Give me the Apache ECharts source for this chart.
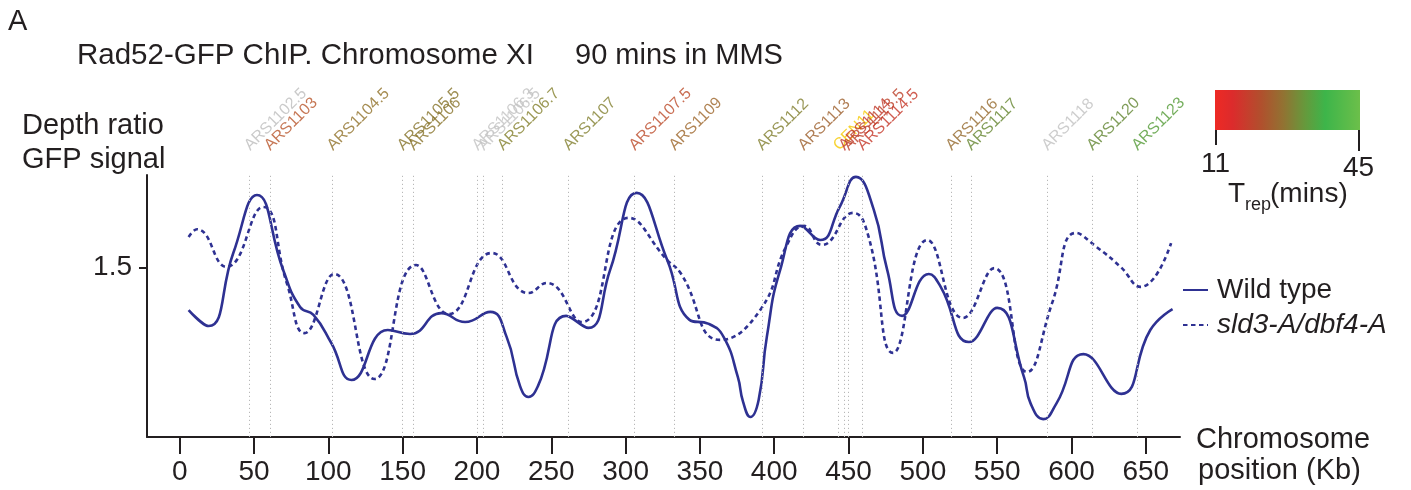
<!DOCTYPE html>
<html>
<head>
<meta charset="utf-8">
<script src="https://cdn.jsdelivr.net/npm/echarts@6/dist/echarts.min.js"></script>
<style>
  html, body { margin: 0; padding: 0; background: #fff; }
  #chart { width: 1411px; height: 490px; }
</style>
</head>
<body>
<div id="chart"></div>
<script>
// wild type: position (Kb) and depth ratio
var wtPos = [6, 19.5, 36, 52, 69.6, 81, 90, 102, 115.6, 140, 155, 176, 192, 209, 220, 229, 234.6, 241, 260, 275,
    289.6, 307.5, 328, 343, 356, 366, 375.5, 379, 384, 389.5, 395, 404, 417.5, 431, 444, 455, 467, 476, 486, 504, 512,
    531, 550, 568, 572.4, 581, 590, 608, 633.5, 653, 668];
var wtRatio = [1.362, 1.310, 1.546, 1.735, 1.492, 1.372, 1.346, 1.255, 1.135, 1.297, 1.284, 1.352, 1.323, 1.356,
    1.274, 1.115, 1.080, 1.115, 1.343, 1.304, 1.492, 1.742, 1.524, 1.330, 1.317, 1.274, 1.145, 1.065, 1.015, 1.070,
    1.274, 1.492, 1.635, 1.589, 1.696, 1.794, 1.687, 1.492, 1.343, 1.479, 1.437, 1.258, 1.369, 1.145, 1.060, 1.008,
    1.060, 1.219, 1.090, 1.297, 1.365];

// sld3-A/dbf4-A
var mutPos = [6, 11.7, 31.4, 56, 72, 84, 104, 131, 159, 181, 210, 234.6, 247, 270.5, 302, 328, 337, 363.6,
    390.6, 408.5, 420, 432, 453, 463.5, 480, 503, 527, 548, 570, 587, 603, 617, 633, 646.5, 667];
var mutRatio = [1.599, 1.624, 1.502, 1.696, 1.450, 1.287, 1.479, 1.138, 1.508, 1.349, 1.547, 1.417, 1.450, 1.323,
    1.661, 1.524, 1.482, 1.265, 1.362, 1.573, 1.635, 1.573, 1.677, 1.599, 1.223, 1.589, 1.336, 1.498, 1.161,
    1.385, 1.612, 1.566, 1.502, 1.437, 1.579];

// origins
var arsNames = ['ARS1102.5', 'ARS1103', 'ARS1104.5', 'ARS1105.5', 'ARS1106', 'ARS1106.3', 'ARS1106.5',
    'ARS1106.7', 'ARS1107', 'ARS1107.5', 'ARS1109', 'ARS1112', 'ARS1113', 'CEN11', 'ARS1114', 'ARS1113.5',
    'ARS1114.5', 'ARS1116', 'ARS1117', 'ARS1118', 'ARS1120', 'ARS1123'];
var arsPos = [47.1, 60.6, 102.8, 150, 157.2, 200.3, 204.3, 217.3, 261.5, 305.9, 332.8, 391.7, 419.7, 443.3,
    447.1, 450, 459.4, 519, 532.4, 583.6, 613.9, 644.2];
// label colour (Trep scale, grey = no data)
var arsColors = ['#bdbdbd', '#b8552a', '#907028', '#857228', '#877228', '#c2c2c2', '#c2c2c2', '#83802c',
    '#82802e', '#bc4a28', '#9c6428', '#807d2c', '#9c5e2a', '#f5c800', '#c03526', '#bb3e27', '#c43526',
    '#94682a', '#64852e', '#c0c0c0', '#60852f', '#539a34'];

var xTicks = [0, 50, 100, 150, 200, 250, 300, 350, 400, 450, 500, 550, 600, 650];
var yTicks = [1.5];
var trepRange = ['11', '45'];

var font = 'Liberation Sans, Arial, Helvetica, sans-serif';
var ink = '#231f20';
var navy = '#2e3192';

function pairs(xs, ys) {
    return xs.map(function (x, i) { return [x, ys[i]]; });
}

function txt(text, left, top, size) {
    return {
        text: text, left: left, top: top, padding: 0,
        textStyle: { fontSize: size || 29, fontWeight: 'normal', color: ink, fontFamily: font }
    };
}

var myChart = echarts.init(document.getElementById('chart'));

var option = {
    backgroundColor: '#fff',
    animation: false,
    title: [
        txt('A', 8, 7),
        txt('Rad52-GFP ChIP. Chromosome XI', 77, 41, 29.5),
        txt('90 mins in MMS', 575, 41),
        txt('Depth ratio', 22, 111),
        txt('GFP signal', 22, 145),
        txt('Chromosome', 1196, 425),
        txt('position (Kb)', 1198, 456),
        txt(trepRange[0], 1201, 150, 28),
        txt(trepRange[1], 1343, 154, 28),
        txt('T', 1228, 180, 28),
        txt('rep', 1245, 196, 18),
        txt('(mins)', 1270, 180, 28)
    ],
    legend: {
        data: ['Wild type', 'sld3-A/dbf4-A'],
        orient: 'vertical',
        left: 1182,
        top: 276,
        padding: 0,
        itemWidth: 25,
        itemHeight: 14,
        itemGap: 7,
        itemStyle: { opacity: 0 },
        formatter: function (name) {
            return name === 'sld3-A/dbf4-A' ? '{i|' + name + '}' : name;
        },
        textStyle: {
            fontSize: 28, color: ink, fontFamily: font, padding: [0, 0, 0, 4],
            rich: { i: { fontSize: 28, fontStyle: 'italic', color: ink, fontFamily: font } }
        }
    },
    grid: [
        { left: 147, right: 231, top: 175, bottom: 53 },
        // strip above the plot for the origin names
        { left: 147, right: 231, top: 140, height: 16 }
    ],
    xAxis: [{
        type: 'value',
        min: -22,
        max: 673,
        axisLine: { onZero: false, lineStyle: { color: ink, width: 2 } },
        axisTick: { length: 17, customValues: xTicks, lineStyle: { color: ink, width: 2 } },
        axisLabel: { customValues: xTicks, fontSize: 28, color: ink, fontFamily: font, margin: 21 },
        splitLine: { show: false }
    }, {
        type: 'value', gridIndex: 1, min: -22, max: 673, show: false
    }],
    yAxis: [{
        type: 'value',
        min: 0.95,
        max: 1.8,
        axisLine: { show: true, onZero: false, lineStyle: { color: ink, width: 2 } },
        axisTick: { show: true, length: 8, customValues: yTicks, lineStyle: { color: ink, width: 2 } },
        axisLabel: { customValues: yTicks, fontSize: 28, color: ink, fontFamily: font, margin: 15 },
        splitLine: { show: false }
    }, {
        type: 'value', gridIndex: 1, min: 0, max: 1, show: false
    }],
    graphic: [
        // T_rep colour bar
        {
            type: 'rect',
            shape: { x: 1215, y: 90, width: 145, height: 40 },
            style: {
                fill: new echarts.graphic.LinearGradient(0, 0, 1, 0, [
                    { offset: 0, color: '#ee2a24' },
                    { offset: 0.12, color: '#dc2b2c' },
                    { offset: 0.32, color: '#b0502d' },
                    { offset: 0.47, color: '#927232' },
                    { offset: 0.62, color: '#66993c' },
                    { offset: 0.76, color: '#3db54a' },
                    { offset: 1, color: '#6cbf4a' }
                ])
            },
            silent: true
        },
        { type: 'line', shape: { x1: 1216, y1: 130, x2: 1216, y2: 145 }, style: { stroke: ink, lineWidth: 2 }, silent: true },
        { type: 'line', shape: { x1: 1359, y1: 130, x2: 1359, y2: 151 }, style: { stroke: ink, lineWidth: 2 }, silent: true }
    ],
    series: [{
        name: 'Wild type',
        type: 'line',
        smooth: true,
        symbol: 'none',
        lineStyle: { color: navy, width: 2.6 },
        itemStyle: { color: navy },
        data: pairs(wtPos, wtRatio),
        markLine: {
            silent: true,
            symbol: ['none', 'none'],
            label: { show: false },
            lineStyle: { color: '#b8b8b8', width: 1, type: [1.2, 2.8] },
            data: arsPos.map(function (p) { return { xAxis: p }; })
        },
        z: 3
    }, {
        name: 'sld3-A/dbf4-A',
        type: 'line',
        smooth: true,
        symbol: 'none',
        lineStyle: { color: navy, width: 2.6, type: [4.5, 3.5] },
        itemStyle: { color: navy },
        data: pairs(mutPos, mutRatio),
        z: 2
    }, {
        type: 'scatter',
        xAxisIndex: 1,
        yAxisIndex: 1,
        silent: true,
        symbolSize: 1,
        itemStyle: { color: 'rgba(0,0,0,0)' },
        label: {
            show: true,
            position: 'inside',
            align: 'left',
            verticalAlign: 'middle',
            rotate: 45,
            offset: [-1.8, -1.8],
            fontSize: 16,
            fontFamily: font,
            formatter: function (p) { return arsNames[p.dataIndex]; }
        },
        data: arsPos.map(function (p, i) {
            return { value: [p, 0.5], label: { color: arsColors[i] } };
        })
    }]
};

myChart.setOption(option);
</script>
</body>
</html>
